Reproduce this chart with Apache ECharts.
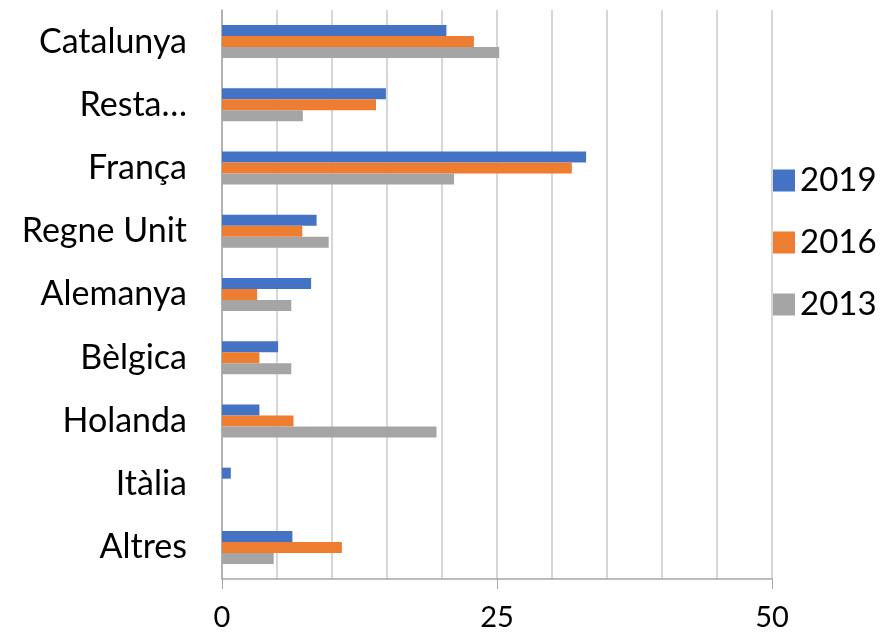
<!DOCTYPE html>
<html>
<head>
<meta charset="utf-8">
<script src="https://cdn.jsdelivr.net/npm/echarts@6/dist/echarts.min.js"></script>
<style>
  html, body { margin: 0; padding: 0; background: #fff; }
  #chart { width: 882px; height: 632px; }
</style>
</head>
<body>
<div id="chart"></div>
<script>
// categories, top to bottom
const countries = ['Catalunya', 'Resta…', 'França', 'Regne Unit', 'Alemanya', 'Bèlgica', 'Holanda', 'Itàlia', 'Altres'];
const years = ['2019', '2016', '2013'];
const v2019 = [20.4, 14.9, 33.1, 8.6, 8.1, 5.1, 3.4, 0.8, 6.4];
const v2016 = [22.9, 14.0, 31.8, 7.3, 3.2, 3.4, 6.5, 0, 10.9];
const v2013 = [25.2, 7.35, 21.1, 9.7, 6.3, 6.3, 19.5, 0, 4.7];
const colors = ['#4472C4', '#ED7D31', '#A5A5A5'];

const font = 'Lato, Carlito, "Open Sans", sans-serif';
const chart = echarts.init(document.getElementById('chart'));

function barSeries(name, data) {
  return {
    name: name,
    type: 'bar',
    data: data,
    barWidth: 11,
    barGap: '0%',
    xAxisIndex: 0,
    silent: true
  };
}

chart.setOption({
  animation: false,
  color: colors,
  textStyle: { fontFamily: font },
  grid: { left: 222, right: 110, top: 10, bottom: 53, outerBoundsMode: 'none' },
  legend: {
    orient: 'vertical',
    left: 773,
    top: 164,
    padding: 0,
    itemWidth: 22,
    itemHeight: 22,
    itemGap: 29,
    icon: 'rect',
    textStyle: { fontSize: 33, color: '#000', fontFamily: font },
    data: years
  },
  xAxis: [
    {
      type: 'value',
      min: 0, max: 50, interval: 25,
      axisLine: { show: true, lineStyle: { color: '#A6A6A6', width: 1.5 } },
      axisTick: { show: true, length: 10, lineStyle: { color: '#A6A6A6' } },
      axisLabel: { fontSize: 29, color: '#000', margin: 24, fontFamily: font },
      splitLine: { show: false }
    },
    {
      type: 'value',
      min: 0, max: 50, interval: 5,
      position: 'bottom',
      axisLine: { show: false },
      axisTick: { show: false },
      axisLabel: { show: false },
      splitLine: { show: true, lineStyle: { color: '#C8C8C8', width: 1.5 } }
    }
  ],
  yAxis: {
    type: 'category',
    inverse: true,
    data: countries,
    axisLine: { show: true, lineStyle: { color: '#A6A6A6', width: 1.5 } },
    axisTick: { show: false },
    axisLabel: { fontSize: 34, color: '#000', margin: 35, fontFamily: font }
  },
  series: [
    barSeries(years[0], v2019),
    barSeries(years[1], v2016),
    barSeries(years[2], v2013)
  ]
});
</script>
</body>
</html>
